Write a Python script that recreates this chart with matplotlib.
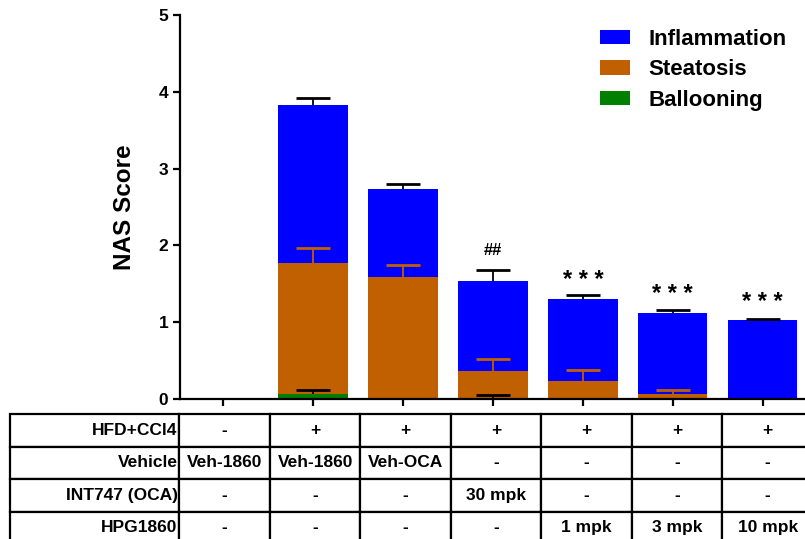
import matplotlib.pyplot as plt
import matplotlib.transforms as mtransforms
import numpy as np

# stacked NAS components (bottom -> top)
ballooning = [0, 0.07, 0, 0.01, 0, 0, 0]
steatosis = [0, 1.70, 1.59, 0.35, 0.24, 0.065, 0]
inflammation = [0, 2.06, 1.15, 1.18, 1.06, 1.055, 1.025]
ballooning_err = [0, 0.05, 0, 0.045, 0, 0, 0]
steatosis_err = [0, 0.19, 0.15, 0.16, 0.14, 0.055, 0]
inflammation_err = [0, 0.09, 0.06, 0.14, 0.05, 0.04, 0.02]
marks = ['', '', '', '##', '* * *', '* * *', '* * *']
mark_y = [0, 0, 0, 1.94, 1.60, 1.41, 1.31]

row_labels = ['HFD+CCl4', 'Vehicle', 'INT747 (OCA)', 'HPG1860']
table_rows = [
    ['-', '+', '+', '+', '+', '+', '+'],
    ['Veh-1860', 'Veh-1860', 'Veh-OCA', '-', '-', '-', '-'],
    ['-', '-', '-', '30 mpk', '-', '-', '-'],
    ['-', '-', '-', '-', '1 mpk', '3 mpk', '10 mpk'],
]

BLUE = '#0000ff'
ORANGE = '#c06000'
GREEN = '#008000'

plt.rcParams['font.family'] = ['Liberation Sans', 'DejaVu Sans']

fig = plt.figure(figsize=(8.05, 5.39), dpi=100)
ax = fig.add_axes([180/805, (539-399)/539, 625/805, 384/539])

x = np.arange(len(inflammation))
width = 0.77
b = np.array(ballooning)
s = np.array(steatosis)
i = np.array(inflammation)

p1 = ax.bar(x, b, width, color=GREEN)
p2 = ax.bar(x, s, width, bottom=b, color=ORANGE)
p3 = ax.bar(x, i, width, bottom=b+s, color=BLUE)


def up_err(tops, errs, color):
    # upper-only error bar: stem + single cap
    errs = np.array(errs)
    keep = errs > 0
    xs, t, e = x[keep], tops[keep], errs[keep]
    ax.vlines(xs, t, t + e, color=color, lw=1.3, zorder=3)
    ax.plot(xs, t + e, '_', color=color, ms=25, mew=2, zorder=3)


up_err(b, ballooning_err, 'black')
up_err(b + s, steatosis_err, ORANGE)
up_err(b + s + i, inflammation_err, 'black')

# asterisks sit high in the text box, nudge them down a bit
star_shift = mtransforms.offset_copy(ax.transData, fig=fig, y=-4, units='dots')
for xi, m, my in zip(x, marks, mark_y):
    if m.startswith('*'):
        ax.text(xi, my, m, ha='center', va='center', fontsize=17, fontweight='bold',
                transform=star_shift)
    elif m:
        ax.text(xi, my, m, ha='center', va='center', fontsize=12, fontweight='bold')

ax.set_xlim(-0.48, 6.47)
ax.set_ylim(0, 5)
ax.set_yticks([0, 1, 2, 3, 4, 5])
ax.set_xticks(x)
ax.set_xticklabels([])
ax.set_ylabel('NAS Score', fontsize=17.5, fontweight='bold', labelpad=16)
for lab in ax.get_yticklabels():
    lab.set_fontweight('bold')
    lab.set_fontsize(12.5)
ax.spines['top'].set_visible(False)
ax.spines['right'].set_visible(False)
ax.spines['left'].set_linewidth(1.6)
ax.spines['bottom'].set_linewidth(1.6)
ax.tick_params(axis='both', direction='out', width=1.6, length=5)

ax.legend([p3, p2, p1], ['Inflammation', 'Steatosis', 'Ballooning'], loc='upper left',
          bbox_to_anchor=((600-180)/625, (399-29)/384), frameon=False, borderpad=0,
          borderaxespad=0, prop={'weight': 'bold', 'size': 16},
          handlelength=1.36, handleheight=0.6, handletextpad=0.8, labelspacing=0.42)

cell_text = [[lab] + row for lab, row in zip(row_labels, table_rows)]
tbl = ax.table(cellText=cell_text, colWidths=[169] + [90.3]*7,
               bbox=[(10-180)/625, -(544-399)/384, 803/625, 130/384], cellLoc='center')
tbl.auto_set_font_size(False)
for (r, c), cell in tbl.get_celld().items():
    cell.set_linewidth(1.6)
    t = cell.get_text()
    t.set_fontsize(12.5)
    t.set_fontweight('bold')
    t.set_family(['Liberation Sans Narrow', 'Liberation Sans', 'DejaVu Sans'])
    if c == 0:
        cell._loc = 'right'
        t.set_ha('right')
        cell.PAD = 0.01
tbl.set_clip_on(False)

fig.savefig('out.png', dpi=100)
